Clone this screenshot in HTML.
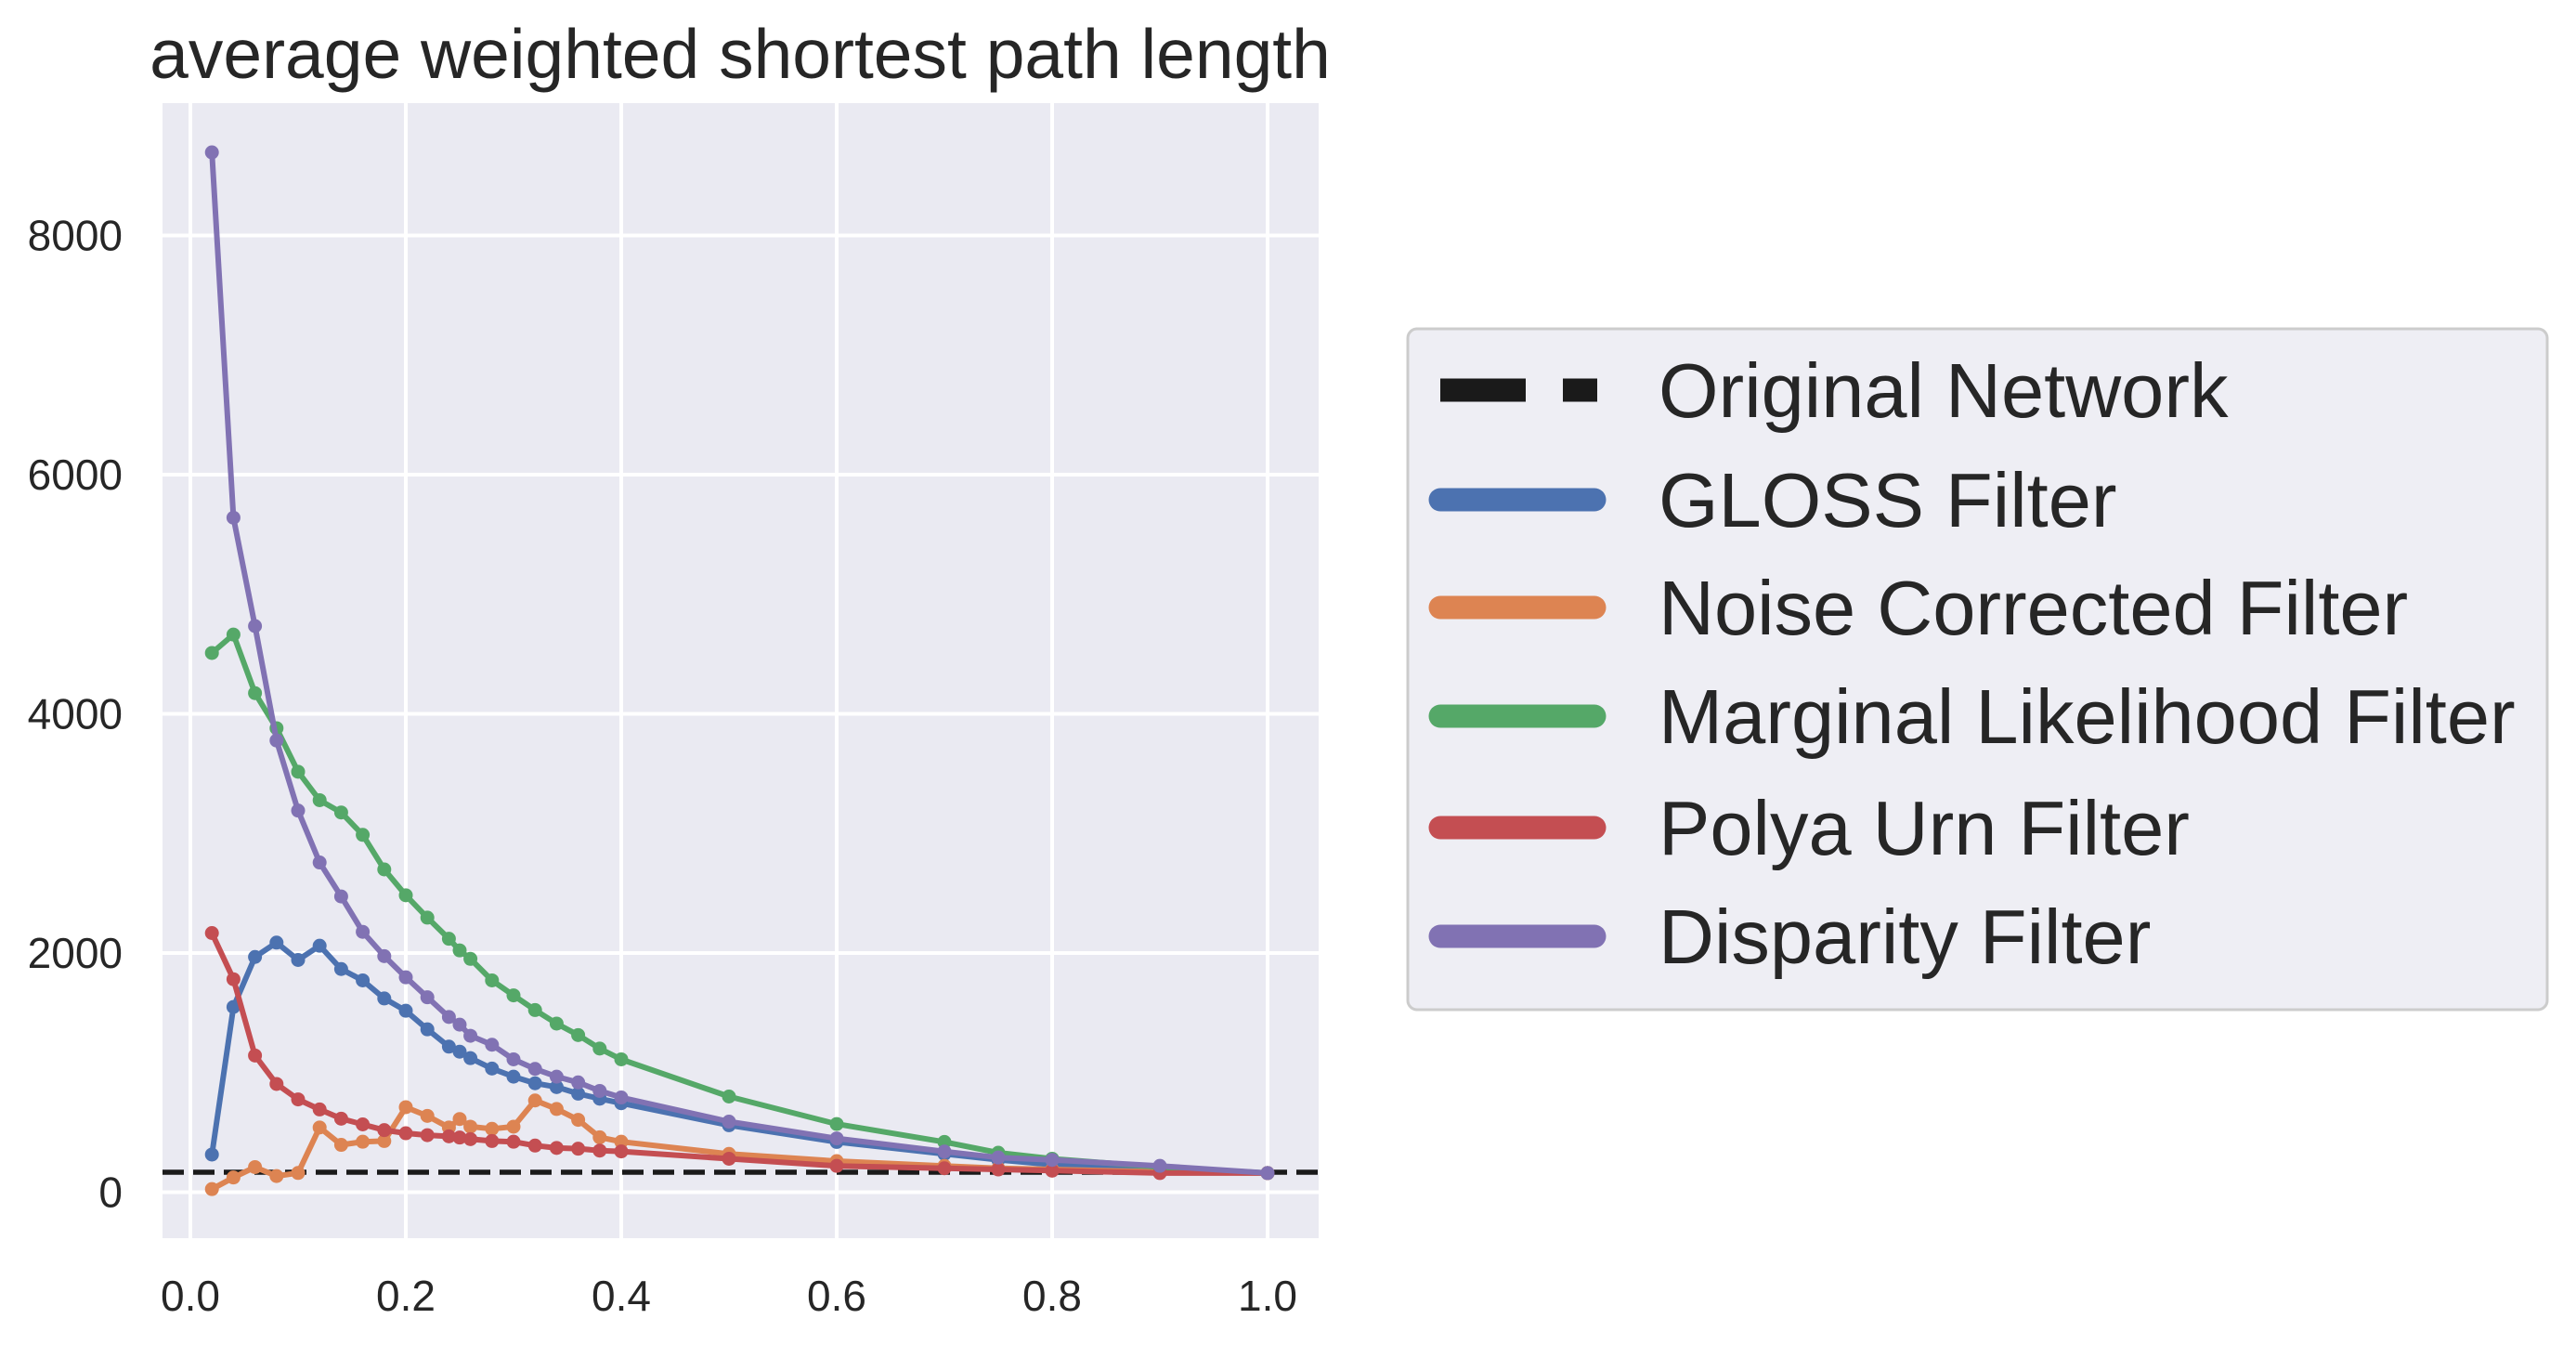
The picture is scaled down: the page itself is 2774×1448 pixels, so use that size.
<!DOCTYPE html>
<html><head><meta charset="utf-8"><style>
html,body{margin:0;padding:0;background:#fff;}
svg{display:block;font-family:"Liberation Sans",Arial,sans-serif;}
</style></head><body>
<svg id="chart" width="2774" height="1448" viewBox="0 0 2774 1448" xmlns="http://www.w3.org/2000/svg">
<rect x="175" y="111" width="1245" height="1222" fill="#eaeaf2"/>
<g id="grid"></g>
<g id="series"></g>
<g id="ticks"></g>
<text x="797" y="84" font-size="75" text-anchor="middle" fill="#262626">average weighted shortest path length</text>
<g>
<rect x="1516" y="354" width="1227" height="733" rx="10" fill="#eeeef4" stroke="#cccccc" stroke-width="3"/>
<g>
<line x1="1551" y1="420" x2="1720" y2="420" stroke="#1a1a1a" stroke-width="25" stroke-dasharray="92,40"/>
<text x="1786" y="449" font-size="83" fill="#262626">Original Network</text></g>
<g>
<line x1="1551" y1="538" x2="1717" y2="538" stroke="#4c72b0" stroke-width="25" stroke-linecap="round"/>
<text x="1786" y="567" font-size="83" fill="#262626">GLOSS Filter</text></g>
<g>
<line x1="1551" y1="654" x2="1717" y2="654" stroke="#dd8452" stroke-width="25" stroke-linecap="round"/>
<text x="1786" y="683" font-size="83" fill="#262626">Noise Corrected Filter</text></g>
<g>
<line x1="1551" y1="771" x2="1717" y2="771" stroke="#55a868" stroke-width="25" stroke-linecap="round"/>
<text x="1786" y="800" font-size="83" fill="#262626">Marginal Likelihood Filter</text></g>
<g>
<line x1="1551" y1="891" x2="1717" y2="891" stroke="#c44e52" stroke-width="25" stroke-linecap="round"/>
<text x="1786" y="920" font-size="83" fill="#262626">Polya Urn Filter</text></g>
<g>
<line x1="1551" y1="1008" x2="1717" y2="1008" stroke="#8172b3" stroke-width="25" stroke-linecap="round"/>
<text x="1786" y="1037" font-size="83" fill="#262626">Disparity Filter</text></g>
</g>
</svg>
<script>
const xValues = [0.02,0.04,0.06,0.08,0.10,0.12,0.14,0.16,0.18,0.20,0.22,0.24,0.25,0.26,0.28,0.30,0.32,0.34,0.36,0.38,0.40,0.5,0.6,0.7,0.75,0.8,0.9,1.0];
const glossValues = [315,1549,1967,2087,1942,2061,1866,1771,1620,1517,1362,1217,1175,1121,1034,966,911,879,824,782,744,560,420,320,270,230,200,160];
const noiseValues = [26,123,210,135,161,541,396,422,428,711,638,541,612,548,530,548,767,696,605,459,422,320,260,220,200,190,170,160];
const marginalValues = [4509,4663,4173,3880,3516,3278,3175,2988,2699,2483,2296,2119,2022,1951,1771,1646,1523,1410,1314,1201,1111,800,570,420,330,280,210,160];
const polyaValues = [2167,1781,1143,905,776,692,615,567,519,493,477,467,457,444,428,422,390,370,364,348,341,280,220,200,190,180,160,160];
const disparityValues = [8695,5640,4734,3777,3191,2757,2473,2177,1974,1797,1630,1465,1401,1308,1233,1111,1031,966,918,847,792,590,450,340,290,270,220,160];
const originalValue = 167;
const xTicks = [0.0,0.2,0.4,0.6,0.8,1.0];
const xTickLabels = ["0.0","0.2","0.4","0.6","0.8","1.0"];
const yTicks = [0,2000,4000,6000,8000];
const yTickLabels = ["0","2000","4000","6000","8000"];

const NS = "http://www.w3.org/2000/svg";
const X0 = 175, X1 = 1420, Y0 = 111, Y1 = 1333;
function xs(v){ return 205 + v * 1160; }
function ys(v){ return 1283.5 - v * 0.12875; }
function mk(tag, attrs, parent){ const e = document.createElementNS(NS, tag); for (const k in attrs) e.setAttribute(k, attrs[k]); parent.appendChild(e); return e; }

const grid = document.getElementById('grid');
const ticks = document.getElementById('ticks');
xTicks.forEach((t, i) => {
  const l = mk('line', {x1: xs(t), x2: xs(t), y1: Y0, y2: Y1, stroke: '#fff', 'stroke-width': 4}, grid);
  
  
  const tx = mk('text', {x: xs(t), y: 1411, 'font-size': 46, 'text-anchor': 'middle', fill: '#262626'}, ticks);
  tx.textContent = xTickLabels[i];
  
  
});
yTicks.forEach((t, i) => {
  const l = mk('line', {x1: X0, x2: X1, y1: ys(t), y2: ys(t), stroke: '#fff', 'stroke-width': 4}, grid);
  
  
  const tx = mk('text', {x: 132, y: ys(t) + 16, 'font-size': 46, 'text-anchor': 'end', fill: '#262626'}, ticks);
  tx.textContent = yTickLabels[i];
  
  
});

const sg = document.getElementById('series');
const orig = mk('line', {x1: X0, x2: X1, y1: ys(originalValue), y2: ys(originalValue), stroke: '#1a1a1a', 'stroke-width': 5.5, 'stroke-dasharray': '23,10'}, sg);



const seriesList = [
  ['gloss', glossValues, '#4c72b0'],
  ['noise-corrected', noiseValues, '#dd8452'],
  ['marginal-likelihood', marginalValues, '#55a868'],
  ['polya-urn', polyaValues, '#c44e52'],
  ['disparity', disparityValues, '#8172b3']
];
seriesList.forEach(([name, vals, color]) => {
  const g = mk('g', {}, sg);
  
  
  const pts = vals.map((v, i) => xs(xValues[i]).toFixed(1) + ',' + ys(v).toFixed(1)).join(' ');
  const pl = mk('polyline', {points: pts, fill: 'none', stroke: color, 'stroke-width': 6, 'stroke-linejoin': 'round', 'stroke-linecap': 'round'}, g);
  
  
  vals.forEach((v, i) => {
    const c = mk('circle', {cx: xs(xValues[i]), cy: ys(v), r: 7.5, fill: color}, g);
    
    
  });
});
</script>
</body></html>
